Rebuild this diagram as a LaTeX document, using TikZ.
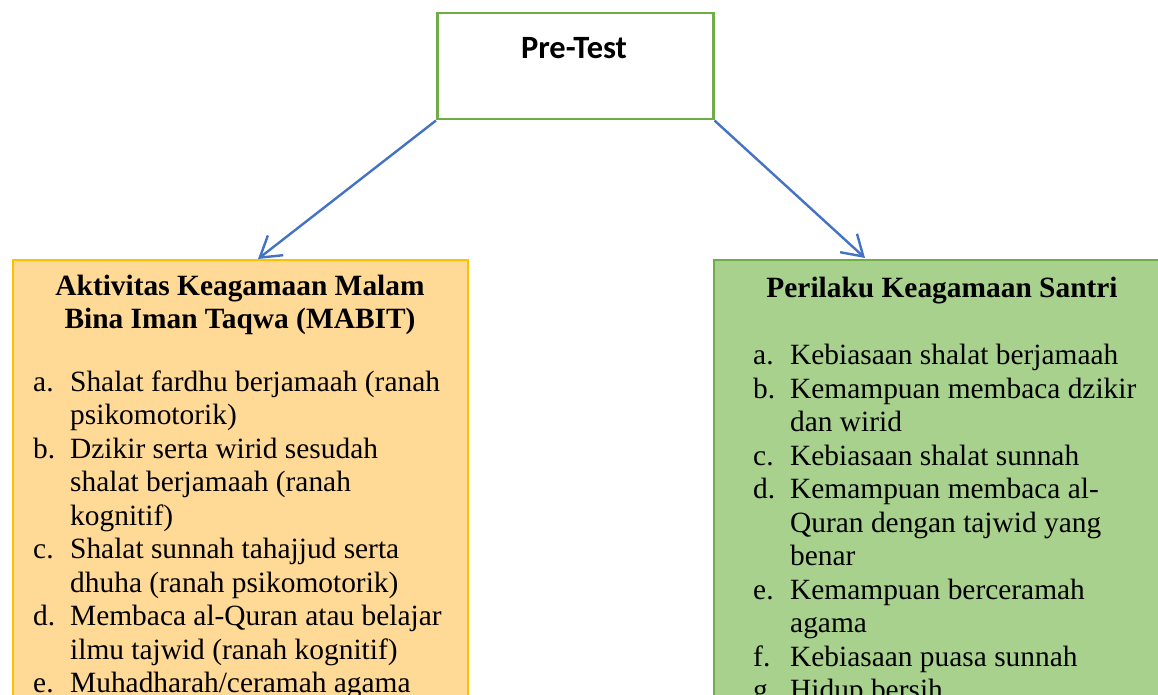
\documentclass[tikz,border=0pt]{standalone}
\usepackage{fontspec}
\setmainfont{Liberation Serif}
\newfontfamily\calfont{Carlito}
\usetikzlibrary{arrows.meta}
\definecolor{boxgreen}{HTML}{70AD47}
\definecolor{fillgreen}{HTML}{A9D18E}
\definecolor{boxgold}{HTML}{FFC000}
\definecolor{fillorange}{HTML}{FFD996}
\definecolor{arrowblue}{HTML}{4472C4}
\tikzset{
  boxshape/.style={draw, line width=1.5pt, anchor=north west, inner sep=0pt},
  txt/.style={inner sep=0pt, font=\fontsize{29.4}{33.5}\selectfont},
  conn/.style={draw=arrowblue, line width=2.4pt, -{Straight Barb[length=20pt,width=25pt,line width=2.4pt]}},
}
\newcommand{\itm}[1]{\makebox[37pt][l]{#1}}
\begin{document}
\begin{tikzpicture}[x=1pt,y=-1pt]
\useasboundingbox (0,0) rectangle (1158,695);
\clip (0,0) rectangle (1158,695);
\fill[white] (0,0) rectangle (1158,695);
% Pre-Test box
\node[boxshape, draw=boxgreen, line width=2.5pt, fill=white, minimum width=276pt, minimum height=106pt] (pre) at (436,12) {};
\node[inner sep=0pt, anchor=base, font=\calfont\bfseries\fontsize{32.5}{36}\selectfont] (pretxt) at (574,59) {Pre-Test};
% Left box
\node[boxshape, draw=boxgold, fill=fillorange, minimum width=455pt, minimum height=520pt] (left) at (12,259) {};
% Right box
\node[boxshape, draw=boxgreen, fill=fillgreen, minimum width=480pt, minimum height=520pt] (right) at (713,259) {};
% Titles
\node[txt, anchor=base, font=\bfseries\fontsize{29.4}{33}\selectfont, align=center] (lt) at (240,328) {Aktivitas Keagamaan Malam\\Bina Iman Taqwa (MABIT)};
\node[txt, anchor=base, font=\bfseries\fontsize{29.4}{33}\selectfont] (rt) at (942,297) {Perilaku Keagamaan Santri};
% Left list
\node[txt, anchor=base west] (llist) at (33,391) {\renewcommand{\arraystretch}{1}\begin{tabular}[t]{@{}l@{}l@{}}
\itm{a.} & Shalat fardhu berjamaah (ranah\\
 & psikomotorik)\\
\itm{b.} & Dzikir serta wirid sesudah\\
 & shalat berjamaah (ranah\\
 & kognitif)\\
\itm{c.} & Shalat sunnah tahajjud serta\\
 & dhuha (ranah psikomotorik)\\
\itm{d.} & Membaca al-Quran atau belajar\\
 & ilmu tajwid (ranah kognitif)\\
\itm{e.} & Muhadharah/ceramah agama
\end{tabular}};
% Right list
\node[txt, anchor=base west] (rlist) at (753,364.5) {\renewcommand{\arraystretch}{1}\begin{tabular}[t]{@{}l@{}l@{}}
\itm{a.} & Kebiasaan shalat berjamaah\\
\itm{b.} & Kemampuan membaca dzikir\\
 & dan wirid\\
\itm{c.} & Kebiasaan shalat sunnah\\
\itm{d.} & Kemampuan membaca al-\\
 & Quran dengan tajwid yang\\
 & benar\\
\itm{e.} & Kemampuan berceramah\\
 & agama\\
\itm{f.} & Kebiasaan puasa sunnah\\
\itm{g.} & Hidup bersih
\end{tabular}};
% Arrows
\coordinate (ltip) at (258,259);
\coordinate (rtip) at (865,258);
\draw[conn] (pre.south west) -- (ltip);
\draw[conn] (pre.south east) -- (rtip);
\end{tikzpicture}
\end{document}
